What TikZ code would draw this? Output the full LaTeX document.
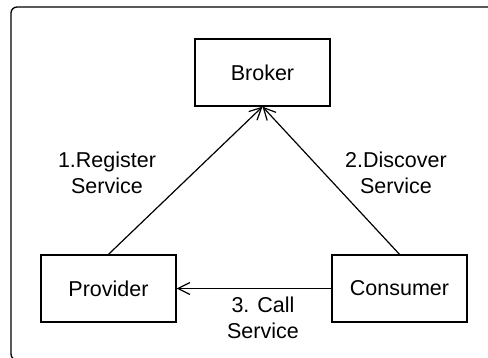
\documentclass[tikz,border=0pt]{standalone}
\usepackage{fontspec}
\setmainfont{Liberation Sans}
\usetikzlibrary{arrows.meta}
\begin{document}
\begin{tikzpicture}[x=1pt,y=-1pt,
  txt/.style={font=\fontsize{21.5}{25.5}\selectfont},
  box/.style={draw, line width=1.3pt, minimum width=135pt, minimum height=67pt, inner sep=0pt, txt},
  lbl/.style={align=center, inner sep=0pt, txt},
  conn/.style={line width=1.2pt, -{Straight Barb[length=12pt,width=12pt,line width=1.2pt]}},
  frame/.style={line width=1.3pt, rounded corners=6pt}]
\useasboundingbox (0,0) rectangle (488,358);
\draw[frame] (11,7) rectangle (500,360);
\node[box] (broker) at (262.5,72.5) {Broker};
\node[box] (provider) at (108.5,288.5) {Provider};
\node[box] (consumer) at (399.5,288.5) {Consumer};
\draw[conn] (provider.north) -- (broker.south);
\draw[conn] (consumer.north) -- (broker.south);
\draw[conn] (consumer.west) -- (provider.east);
\node[lbl] (reg) at (107,173) {1.Register\\Service};
\node[lbl] (disc) at (396,173) {2.Discover\\Service};
\node[lbl] (call) at (263,318) {3. Call\\Service};
\end{tikzpicture}
\end{document}
